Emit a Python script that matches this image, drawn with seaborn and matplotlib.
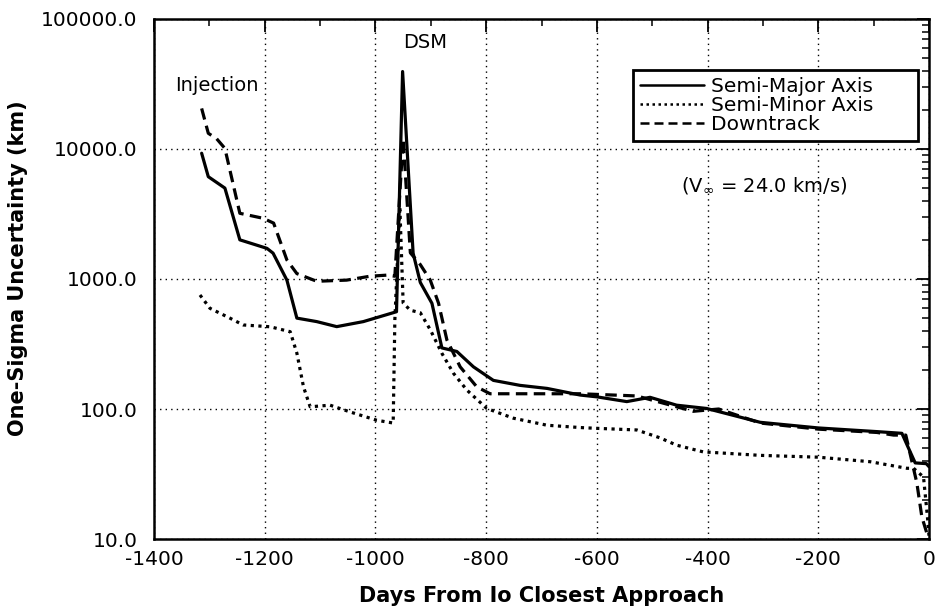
import numpy as np
import pandas as pd
import seaborn as sns
import matplotlib.pyplot as plt
from matplotlib.lines import Line2D
from matplotlib.ticker import FixedLocator, LogLocator, NullFormatter

# values
major_days = [-1314, -1302, -1272, -1245, -1196, -1185, -1160, -1142, -1106, -1070,
              -1022, -962, -951, -932, -919, -898, -880, -853, -823, -787, -739,
              -690, -630, -600, -546, -504, -456, -402, -305, -200, -94, -49, -38,
              -25, -5, 0]
major_km = [9270, 6120, 5000, 2000, 1720, 1580, 980, 500, 470, 430,
            470, 560, 39400, 1580, 940, 650, 295, 277, 211, 166, 152,
            144, 128, 124, 114, 123, 107, 101, 79, 71.5, 67, 65, 51,
            38.5, 38, 36]

minor_days = [-1317, -1299, -1263, -1239, -1190, -1154, -1142, -1130, -1118, -1082,
              -1046, -998, -968, -965, -956, -950, -937, -919, -901, -880, -859,
              -835, -799, -751, -690, -630, -600, -528, -486, -456, -408, -305,
              -200, -106, -40, -28, -10, -3, 0]
minor_km = [753, 595, 500, 443, 429, 393, 269, 148, 104, 107,
            95, 82, 78, 484, 3600, 653, 575, 550, 407, 268, 188,
            140, 101, 85, 75, 72, 71, 69, 60, 52.7, 46.8, 44,
            42.6, 39.3, 35, 35, 30, 15, 10.5]

down_days = [-1314, -1302, -1287, -1272, -1245, -1203, -1184, -1160, -1142, -1106,
             -1052, -1010, -980, -965, -950, -937, -919, -901, -886, -871, -847,
             -817, -793, -721, -630, -528, -426, -380, -305, -200, -94, -64, -42,
             -22, -13, -4, 0]
down_km = [20500, 13200, 12000, 10100, 3200, 2930, 2690, 1400, 1100, 960,
           980, 1050, 1070, 1050, 12000, 1590, 1290, 980, 650, 340, 211,
           148, 131, 131, 131, 126, 96, 100, 78, 70, 66, 63, 63,
           27, 14.8, 11.1, 10.5]

x_ticks = [-1400, -1200, -1000, -800, -600, -400, -200, 0]
y_ticks = [10, 100, 1000, 10000, 100000]
y_labels = ["10.0", "100.0", "1000.0", "10000.0", "100000.0"]

sns.set_style("white")
plt.rcParams['font.family'] = ['DejaVu Sans']
plt.rcParams['text.color'] = 'black'
plt.rcParams['axes.labelcolor'] = 'black'
plt.rcParams['xtick.color'] = 'black'
plt.rcParams['ytick.color'] = 'black'

fig = plt.figure(figsize=(9.37, 6.11), dpi=100)
ax = fig.add_axes([0.1644, 0.1178, 0.8271, 0.8512])

series = [
    ("Semi-Major Axis", major_days, major_km, "-"),
    ("Semi-Minor Axis", minor_days, minor_km, (0, (1, 1.4))),
    ("Downtrack", down_days, down_km, (0, (3.6, 2))),
]
for name, d, v, ls in series:
    df = pd.DataFrame({"Days": d, "km": v})
    sns.lineplot(data=df, x="Days", y="km", ax=ax, color="black", lw=2.3,
                 linestyle=ls, sort=False, estimator=None)

ax.set_yscale("log")
ax.set_xlim(-1400, 0)
ax.set_ylim(10, 100000)

ax.set_xticks(x_ticks)
ax.set_xticklabels([str(t) for t in x_ticks])
ax.xaxis.set_minor_locator(FixedLocator(np.arange(-1300, 0, 200)))
ax.set_yticks(y_ticks)
ax.set_yticklabels(y_labels)
ax.yaxis.set_minor_locator(LogLocator(base=10, subs=np.arange(2, 10)))
ax.yaxis.set_minor_formatter(NullFormatter())

ax.tick_params(which="both", direction="in", top=True, right=True, color="black",
               labelcolor="black")
ax.tick_params(which="major", length=9, width=1.3, labelsize=14.5)
ax.tick_params(axis="x", which="major", pad=8)
ax.tick_params(axis="y", which="major", pad=12)
ax.tick_params(which="minor", length=5, width=1.1)

ax.grid(True, which="major", color="black", linestyle=(0, (1, 3)), lw=1.0)
for s in ax.spines.values():
    s.set_color("black")
    s.set_linewidth(1.8)

ax.set_xlabel("Days From Io Closest Approach", fontsize=15, fontweight="bold",
              labelpad=12, color="black")
ax.set_ylabel("One-Sigma Uncertainty (km)", fontsize=15, fontweight="bold", color="black")
ax.yaxis.set_label_coords(-0.163, 0.52)

ax.text(-1362, 31000, "Injection", fontsize=14, ha="left", va="center", color="black")
ax.text(-910, 66000, "DSM", fontsize=14, ha="center", va="center", color="black")
ax.text(-298, 5190, r"(V$_\infty$ = 24.0 km/s)", fontsize=14, ha="center", va="center",
        color="black")

handles = [Line2D([], [], color="black", lw=1.8, linestyle=ls) for _, _, _, ls in series]
leg = ax.legend(handles, [s[0] + "      " for s in series], loc="upper right",
                bbox_to_anchor=(0.986, 0.902), fontsize=14.5, frameon=True,
                fancybox=False, edgecolor="black", framealpha=1,
                handlelength=3.2, handletextpad=0.3, labelspacing=0.0,
                borderpad=0.35, borderaxespad=0)
leg.get_frame().set_linewidth(2.0)
for t in leg.get_texts():
    t.set_color("black")

fig.savefig("out.png", dpi=100)
